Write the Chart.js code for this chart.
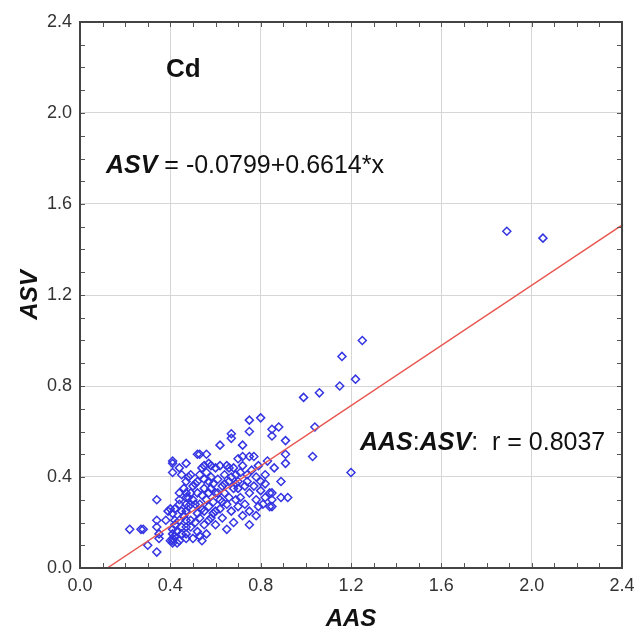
<!DOCTYPE html>
<html>
<head>
<meta charset="utf-8">
<script src="https://cdn.jsdelivr.net/npm/chart.js@4.4.1/dist/chart.umd.min.js"></script>
<style>
  html, body { margin: 0; padding: 0; background: #fff; }
  #wrap { width: 635px; height: 631px; }
</style>
</head>
<body>
<div id="wrap"><canvas id="chart" width="635" height="631"></canvas></div>
<script>
// AAS (x) and ASV (y) for Cd, one line of aas per line of asv
const aas = [
  0.22, 0.27, 0.28, 0.30, 0.34, 0.34, 0.34, 0.34, 0.35, 0.35, 0.38, 0.39, 0.40,
  0.41, 0.41, 0.41, 0.41, 0.41, 0.41, 0.41, 0.41, 0.42, 0.42, 0.42, 0.41, 0.42,
  0.44, 0.45, 0.44, 0.44, 0.44, 0.45, 0.44, 0.45, 0.45, 0.44, 0.47, 0.47, 0.47, 0.47, 0.47,
  0.47, 0.47, 0.47, 0.47, 0.48, 0.49, 0.49, 0.49, 0.49, 0.49, 0.50, 0.50, 0.50, 0.47,
  0.51, 0.52, 0.52, 0.52, 0.52, 0.53, 0.53, 0.53, 0.53, 0.53, 0.54, 0.54, 0.55, 0.55, 0.55, 0.55, 0.55,
  0.56, 0.56, 0.56, 0.56, 0.57, 0.57, 0.57, 0.58, 0.58, 0.58, 0.59, 0.59, 0.60, 0.60, 0.60, 0.60,
  0.61, 0.62, 0.62, 0.62, 0.63, 0.63, 0.64, 0.64, 0.65, 0.65, 0.65, 0.66, 0.66,
  0.67, 0.67, 0.67, 0.67, 0.68, 0.68, 0.68, 0.69, 0.69, 0.70, 0.70, 0.70, 0.70,
  0.71, 0.71, 0.72, 0.72, 0.72, 0.72, 0.73, 0.73, 0.74, 0.74, 0.75, 0.75, 0.75,
  0.75, 0.75, 0.76, 0.77, 0.77, 0.78, 0.78, 0.79, 0.79, 0.80, 0.80, 0.80,
  0.82, 0.82, 0.82, 0.84, 0.85, 0.85, 0.85, 0.85, 0.85,
  0.88, 0.89, 0.89, 0.91, 0.91, 0.91, 0.92, 0.86, 0.83,
  0.75, 0.78, 0.81, 0.84, 0.62, 0.58,
  0.40, 0.43, 0.43, 0.46, 0.46, 0.48, 0.48, 0.51, 0.51, 0.52,
  0.54, 0.54, 0.57, 0.57, 0.59, 0.61, 0.63, 0.64, 0.66, 0.69,
  0.99, 1.04, 1.03, 1.06, 1.15, 1.16, 1.22, 1.25, 1.20, 1.89, 2.05
];
const asv = [
  0.17, 0.17, 0.17, 0.10, 0.07, 0.30, 0.21, 0.18, 0.15, 0.13, 0.21, 0.25, 0.26,
  0.47, 0.46, 0.42, 0.17, 0.15, 0.13, 0.12, 0.11, 0.14, 0.21, 0.26, 0.24, 0.19,
  0.44, 0.41, 0.33, 0.30, 0.28, 0.25, 0.21, 0.18, 0.15, 0.12, 0.46, 0.33, 0.31, 0.28, 0.25,
  0.21, 0.18, 0.15, 0.13, 0.40, 0.41, 0.33, 0.28, 0.21, 0.18, 0.13, 0.30, 0.36, 0.38,
  0.37, 0.33, 0.50, 0.24, 0.16, 0.50, 0.41, 0.28, 0.22, 0.14, 0.12, 0.32, 0.45, 0.39, 0.35, 0.25, 0.19,
  0.50, 0.42, 0.30, 0.15, 0.46, 0.33, 0.27, 0.40, 0.35, 0.22, 0.29, 0.37, 0.44, 0.33, 0.25, 0.19,
  0.39, 0.30, 0.54, 0.45, 0.36, 0.22, 0.41, 0.33, 0.45, 0.28, 0.17, 0.38, 0.31,
  0.59, 0.57, 0.40, 0.25, 0.44, 0.35, 0.20, 0.30, 0.41, 0.35, 0.27, 0.48, 0.38,
  0.42, 0.31, 0.54, 0.49, 0.45, 0.23, 0.36, 0.28, 0.41, 0.38, 0.65, 0.60, 0.49,
  0.33, 0.25, 0.43, 0.49, 0.36, 0.30, 0.40, 0.45, 0.27, 0.66, 0.34, 0.38,
  0.41, 0.37, 0.31, 0.33, 0.61, 0.58, 0.33, 0.30, 0.27,
  0.62, 0.38, 0.31, 0.56, 0.50, 0.46, 0.31, 0.44, 0.47,
  0.19, 0.23, 0.28, 0.27, 0.26, 0.45,
  0.12, 0.11, 0.16, 0.23, 0.35, 0.27, 0.31, 0.20, 0.28, 0.38,
  0.26, 0.44, 0.21, 0.38, 0.24, 0.33, 0.29, 0.37, 0.44, 0.37,
  0.75, 0.62, 0.49, 0.77, 0.80, 0.93, 0.83, 1.00, 0.42, 1.48, 1.45
];

// regression ASV = intercept + slope * AAS
const intercept = -0.0799;
const slope = 0.6614;
const r = 0.8037;

const tickValues = [0.0, 0.4, 0.8, 1.2, 1.6, 2.0, 2.4];
const axisMin = 0;
const axisMax = 2.4;

const FONT = "'Liberation Sans', Arial, Helvetica, sans-serif";

const points = aas.map((v, i) => ({ x: v, y: asv[i] }));
const xStart = -intercept / slope;
const fitLine = [
  { x: xStart, y: intercept + slope * xStart },
  { x: axisMax, y: intercept + slope * axisMax }
];

function drawRuns(ctx, x, y, runs) {
  let cx = x;
  runs.forEach(([text, font]) => {
    ctx.font = font;
    ctx.fillText(text, cx, y);
    cx += ctx.measureText(text).width;
  });
}

const decor = {
  id: 'decor',
  afterDraw(chart) {
    const { ctx, chartArea: a, scales: { x, y } } = chart;
    ctx.save();

    // minor ticks every 0.1 on all four sides, pointing inwards
    ctx.strokeStyle = '#555';
    ctx.lineWidth = 1;
    ctx.beginPath();
    for (let i = 1; i < 24; i++) {
      const v = i / 10;
      const px = Math.round(x.getPixelForValue(v)) + 0.5;
      const py = Math.round(y.getPixelForValue(v)) + 0.5;
      ctx.moveTo(px, a.bottom); ctx.lineTo(px, a.bottom - 5);
      ctx.moveTo(px, a.top); ctx.lineTo(px, a.top + 5);
      ctx.moveTo(a.left, py); ctx.lineTo(a.left + 5, py);
      ctx.moveTo(a.right, py); ctx.lineTo(a.right - 5, py);
    }
    ctx.stroke();

    ctx.strokeStyle = '#444';
    ctx.lineWidth = 2;
    ctx.strokeRect(a.left, a.top, a.right - a.left, a.bottom - a.top);

    // labels inside the plot
    ctx.fillStyle = '#111';
    ctx.textBaseline = 'alphabetic';
    ctx.textAlign = 'left';
    const bi = 'italic bold 25px ' + FONT;
    const rg = '25px ' + FONT;
    drawRuns(ctx, 166, 77, [['Cd', 'bold 26px ' + FONT]]);
    drawRuns(ctx, 106, 173, [
      ['ASV', bi],
      [' = ' + intercept.toFixed(4) + '+' + slope.toFixed(4) + '*x', rg]
    ]);
    drawRuns(ctx, 360, 450, [
      ['AAS', bi], [':', rg], ['ASV', bi], [':  r = ' + r.toFixed(4), rg]
    ]);
    ctx.restore();
  }
};

new Chart(document.getElementById('chart'), {
  type: 'scatter',
  data: {
    datasets: [
      {
        label: 'Cd',
        data: points,
        pointStyle: 'rectRot',
        pointRadius: 4,
        pointHoverRadius: 4,
        pointBorderWidth: 1.5,
        pointBorderColor: '#3434e2',
        pointBackgroundColor: 'rgba(255,255,255,0)',
        order: 1
      },
      {
        type: 'line',
        label: 'fit',
        data: fitLine,
        borderColor: '#e8574f',
        borderWidth: 1.5,
        pointRadius: 0,
        fill: false,
        order: 0
      }
    ]
  },
  plugins: [decor],
  options: {
    responsive: false,
    animation: false,
    layout: { padding: { top: 22, right: 13, left: 0, bottom: 0 } },
    plugins: {
      legend: { display: false },
      tooltip: { enabled: false }
    },
    scales: {
      x: {
        type: 'linear',
        min: axisMin,
        max: axisMax,
        afterFit: s => { s.height = 63; s.paddingLeft = 0; s.paddingRight = 0; },
        afterBuildTicks: s => { s.ticks = tickValues.map(v => ({ value: v })); },
        grid: { color: '#d6d6d6', lineWidth: 1, drawTicks: false },
        border: { display: false },
        ticks: {
          padding: 7,
          color: '#333',
          font: { family: FONT, size: 18 },
          callback: v => v.toFixed(1)
        },
        title: {
          display: true,
          text: 'AAS',
          color: '#111',
          padding: { top: 0, bottom: 0 },
          font: { family: FONT, size: 24, style: 'italic', weight: 'bold', lineHeight: 1 }
        }
      },
      y: {
        type: 'linear',
        min: axisMin,
        max: axisMax,
        afterFit: s => { s.width = 80; s.paddingTop = 0; s.paddingBottom = 0; },
        afterBuildTicks: s => { s.ticks = tickValues.map(v => ({ value: v })); },
        grid: { color: '#d6d6d6', lineWidth: 1, drawTicks: false },
        border: { display: false },
        ticks: {
          padding: 8,
          color: '#333',
          font: { family: FONT, size: 18 },
          callback: v => v.toFixed(1)
        },
        title: {
          display: true,
          text: 'ASV',
          color: '#111',
          padding: { top: 18, bottom: 0 },
          font: { family: FONT, size: 24, style: 'italic', weight: 'bold', lineHeight: 1 }
        }
      }
    }
  }
});
</script>
</body>
</html>
